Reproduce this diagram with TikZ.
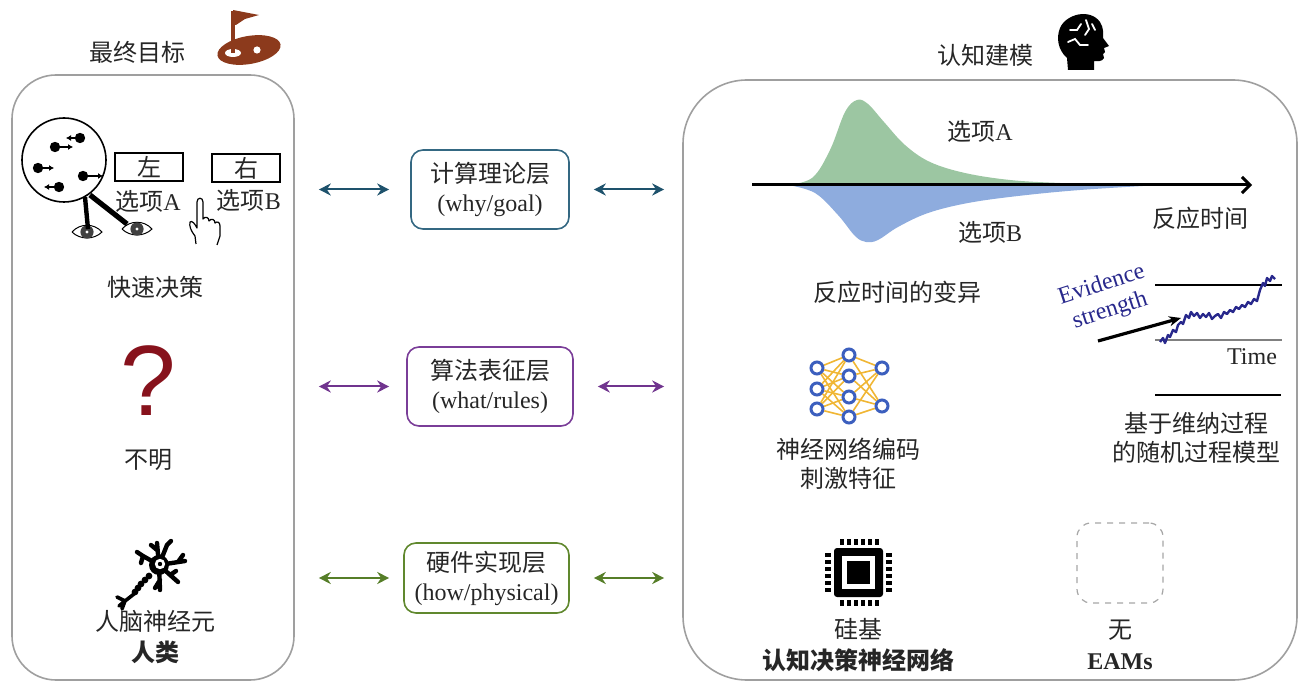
\documentclass[tikz,border=0pt]{standalone}
\usepackage{fontspec}
\setmainfont{Liberation Serif}
\newfontfamily\cjk{Noto Sans CJK SC}
\newfontfamily\sans{Liberation Sans}
\usetikzlibrary{arrows.meta,positioning}

\newcommand{\zh}[1]{{\cjk #1}}
\definecolor{flagbrown}{RGB}{140,58,28}
\definecolor{whycol}{RGB}{52,104,130}
\definecolor{whyarr}{RGB}{30,82,108}
\definecolor{whatcol}{RGB}{122,62,152}
\definecolor{whatarr}{RGB}{112,52,142}
\definecolor{howcol}{RGB}{96,136,46}
\definecolor{howarr}{RGB}{86,126,40}
\definecolor{qred}{RGB}{135,18,28}
\definecolor{greenfill}{RGB}{156,198,162}
\definecolor{bluefill}{RGB}{142,172,222}
\definecolor{netblue}{RGB}{60,95,190}
\definecolor{netgold}{RGB}{240,182,52}
\definecolor{evblue}{RGB}{40,40,140}

\begin{document}
\begin{tikzpicture}[x=0.5pt,y=-0.5pt,
  every node/.style={font=\fontsize{12}{14.5}\selectfont, text=black!85},
  pane/.style={draw=gray!75, line width=0.8pt},
  levelbox/.style={draw, rounded corners=6pt, line width=0.8pt, align=center, inner sep=2pt},
  biarrow/.style={{Stealth[length=6pt,width=6pt]}-{Stealth[length=6pt,width=6pt]}, line width=1pt},
  neuron/.style={circle, draw=netblue, line width=1.5pt, fill=white, minimum size=6pt, inner sep=0pt}]
\useasboundingbox (0,0) rectangle (1302,684);

% the two panes
\node[pane, rounded corners=22pt, minimum width=141pt, minimum height=302.5pt] (L) at (153,377.5) {};
\node[pane, rounded corners=32pt, minimum width=307pt, minimum height=300pt] (R) at (990,380) {};

% titles with icons
\node (goal) at (137,52) {\zh{最终目标}};
\fill[flagbrown, rotate around={10:(249,50)}] (249,50) ellipse [x radius=16pt, y radius=7pt];
\fill[white] (233,53) ellipse [x radius=4pt, y radius=2pt];
\fill[white] (257,50) circle (1.8pt);
\draw[flagbrown, line width=2pt] (233,53) -- (233,11);
\fill[flagbrown] (233,10) -- (259,15) -- (245,19) -- (236,25) -- (233,25) -- cycle;

\node (model) at (985,55) {\zh{认知建模}};
\fill (1068,70) -- (1067,58) .. controls (1058,50) and (1056,38) .. (1060,28)
  .. controls (1066,14) and (1090,8) .. (1100,22) .. controls (1104,28) and (1103,34) .. (1103,38)
  -- (1109,46) -- (1104,48) -- (1105,52) -- (1103,54) -- (1104,58)
  .. controls (1102,62) and (1098,61) .. (1094,61) -- (1094,70) -- cycle;
\draw[white, line width=0.9pt, line cap=round] (1070,30) -- (1077,30) -- (1081,24)
  (1068,42) -- (1075,39) -- (1080,45) -- (1088,45) (1086,20) -- (1089,29) -- (1085,35)
  (1092,24) -- (1095,30);

% middle layers
\node[levelbox, draw=whycol, minimum width=79pt, minimum height=39.5pt] (why) at (490,189.5) {\zh{计算理论层}\\(why/goal)};
\node[levelbox, draw=whatcol, minimum width=83pt, minimum height=39.5pt] (what) at (490,386.5) {\zh{算法表征层}\\(what/rules)};
\node[levelbox, draw=howcol, minimum width=82.5pt, minimum height=35pt] (how) at (486.5,578) {\zh{硬件实现层}\\(how/physical)};

\foreach \b/\c/\s in {why/whyarr/10.5pt, what/whatarr/8.5pt, how/howarr/7pt} {
  \draw[biarrow, \c, shorten <=12pt, shorten >=\s] (L.east |- \b) -- (\b.west);
  \draw[biarrow, \c, shorten <=12pt, shorten >=9pt] (\b.east) -- (R.west |- \b);
}

% left pane: fast decision
\node[circle, draw, line width=0.8pt, minimum size=42pt, inner sep=0pt] (crowd) at (64,160) {};
\foreach \x/\y/\d in {80/138/-14, 55/147/18, 38/168/16, 83/176/20, 59/187/-15} {
  \fill (\x,\y) circle (2.6pt);
  \draw[-{Latex[length=2.5pt,width=3pt]}, line width=0.7pt] (\x,\y) -- ++(\d,0);
}
\foreach \ex/\ey in {87/232, 137/229} {
  \draw[line width=0.5pt, fill=white] (\ex-15,\ey) .. controls (\ex-7,\ey-9) and (\ex+7,\ey-9) .. (\ex+15,\ey)
    .. controls (\ex+7,\ey+8) and (\ex-7,\ey+8) .. (\ex-15,\ey);
  \fill[black!75] (\ex,\ey) circle (3.3pt);
  \fill[white] (\ex,\ey) circle (0.8pt);
}
\draw[line width=2.2pt] (85,197) -- (88,229);
\draw[line width=2.6pt] (90,195) -- (127,224);
\node[draw, line width=0.7pt, minimum width=34pt, minimum height=14pt, inner sep=0pt] (left) at (149,167) {\zh{左}};
\node[draw, line width=0.7pt, minimum width=34pt, minimum height=14pt, inner sep=0pt] (right) at (246,168) {\zh{右}};
\node (optA) at (148,201) {\zh{选项}A};
\node (optB) at (249,200) {\zh{选项}B};
\draw[line width=0.6pt, line join=round] (196,244) -- (195,236) .. controls (191,231) and (189,226) .. (190,222)
  .. controls (192,220) and (195,224) .. (197,228) -- (197,202) .. controls (197,197) and (203,197) .. (203,202)
  -- (203,219) .. controls (205,216) and (209,217) .. (209,221) .. controls (211,218) and (215,219) .. (215,223)
  .. controls (217,221) and (220,222) .. (220,226) -- (220,236) -- (217,245);
\node (fast) at (155,287) {\zh{快速决策}};

% left pane: unknown
\node[text=qred, font=\sans\fontsize{50}{50}\selectfont, inner sep=0pt] (unk) at (148,381) {?};
\node (unclear) at (148,460) {\zh{不明}};

% left pane: human neuron
\draw[line width=2.2pt, line cap=round] (159,565) -- (143,556) -- (137,552) (143,556) -- (141,563)
  (159,565) -- (157,543) (157,550) -- (151,545) (159,565) -- (167,545) -- (171,541)
  (159,565) -- (185,561) (178,562) -- (183,555) (159,565) -- (178,582) (170,575) -- (176,571)
  (159,565) -- (160,590) (160,580) -- (155,588);
\fill (159,565) circle (5pt);
\fill[white] (160,564) circle (2.6pt);
\fill (160,564) circle (1.1pt);
\foreach \px/\py in {149/576, 145/580, 141/584, 138/588, 135/592} \fill (\px,\py) circle (1.7pt);
\draw[line width=1.8pt, line cap=round] (134,594) -- (125,601) -- (117,597) (125,601) -- (122,609) (125,601) -- (119,606);
\node[align=center] (human) at (155,637) {\zh{人脑神经元}\\[1pt]\zh{\bfseries 人类}};

% right pane: response-time distributions
\fill[greenfill] plot[smooth, tension=0.6] coordinates {(786,185) (812,178) (830,150) (845,112) (857,100) (868,104)
  (884,122) (905,145) (930,162) (965,173) (1010,180) (1060,183) (1120,185)} -- cycle;
\fill[bluefill] plot[smooth, tension=0.6] coordinates {(788,185) (815,193) (838,215) (855,236) (866,242) (878,240)
  (898,227) (928,213) (968,203) (1018,196) (1080,190) (1160,185)} -- cycle;
\coordinate (t0) at (752,185);
\coordinate (t1) at (1252,185);
\draw[line width=1.5pt, -{Straight Barb[length=4pt,width=8pt]}] (t0) -- (t1);
\node (rA) at (980,131) {\zh{选项}A};
\node (rB) at (990,232) {\zh{选项}B};
\node (rt) at (1200,218) {\zh{反应时间}};
\node (rtvar) at (897,292) {\zh{反应时间的变异}};

% right pane: evidence accumulation
\draw[line width=0.8pt] (1155,285) -- (1282,285);
\draw[gray, line width=0.6pt] (1155,340) -- (1282,340);
\draw[evblue, line width=1.2pt, line join=round] plot coordinates {(1160,342) (1163,338) (1165,343) (1168,335) (1170,337)
  (1173,330) (1176,332) (1178,325) (1181,322) (1183,324) (1186,315) (1189,318) (1191,312) (1194,316) (1197,313)
  (1200,318) (1203,314) (1206,317) (1209,313) (1212,319) (1215,316) (1218,314) (1221,318) (1224,312) (1227,314)
  (1230,310) (1233,312) (1236,307) (1239,309) (1242,305) (1245,307) (1248,302) (1251,304) (1254,299) (1257,301)
  (1260,290) (1263,283) (1265,286) (1267,278) (1270,281) (1272,276) (1275,279)};
\node[rotate=18, text=evblue, align=center, font=\fontsize{12}{13.5}\selectfont, inner sep=0pt] (ev) at (1106,298) {Evidence\\strength};
\coordinate (evtail) at (1098,341);
\coordinate (evtip) at (1181,318);
\draw[line width=1.6pt, -{Stealth[length=6pt,width=5pt]}] (evtail) -- (evtip);
\node (time) at (1252,357) {Time};
\draw[line width=0.8pt] (1155,395) -- (1281,395);
\node[align=center] (wiener) at (1196,438) {\zh{基于维纳过程}\\\zh{的随机过程模型}};

% right pane: neural network
\foreach \i/\y in {1/368,2/389,3/409} \node[neuron] (in\i) at (817,\y) {};
\foreach \i/\y in {1/355,2/376,3/397,4/417} \node[neuron] (hid\i) at (849,\y) {};
\foreach \i/\y in {1/368,2/406} \node[neuron] (out\i) at (882,\y) {};
\foreach \i in {1,2,3} \foreach \j in {1,2,3,4} \draw[netgold, line width=0.8pt] (in\i) -- (hid\j);
\foreach \j in {1,2,3,4} \foreach \k in {1,2} \draw[netgold, line width=0.8pt] (hid\j) -- (out\k);
\node[align=center] (code) at (848,464) {\zh{神经网络编码}\\\zh{刺激特征}};

% right pane: chip and empty slot
\fill[rounded corners=1.5pt] (834,548) rectangle (883,597);
\fill[white] (842,556) rectangle (875,589);
\fill (847,561) rectangle (870,584);
\foreach \k in {0,...,5} {
  \fill (840+\k*7,539) rectangle ++(4,6);
  \fill (840+\k*7,600) rectangle ++(4,6);
  \fill (825,553+\k*7) rectangle ++(6,4);
  \fill (886,553+\k*7) rectangle ++(6,4);
}
\node[align=center] (silicon) at (858,645) {\zh{硅基}\\[1pt]\zh{\bfseries 认知决策神经网络}};
\node[draw=gray!70, dashed, rounded corners=7pt, minimum width=43pt, minimum height=40pt, line width=0.6pt] (none) at (1120,563) {};
\node[align=center] (eam) at (1120,645) {\zh{无}\\[1pt]\textbf{EAMs}};
\end{tikzpicture}
\end{document}
